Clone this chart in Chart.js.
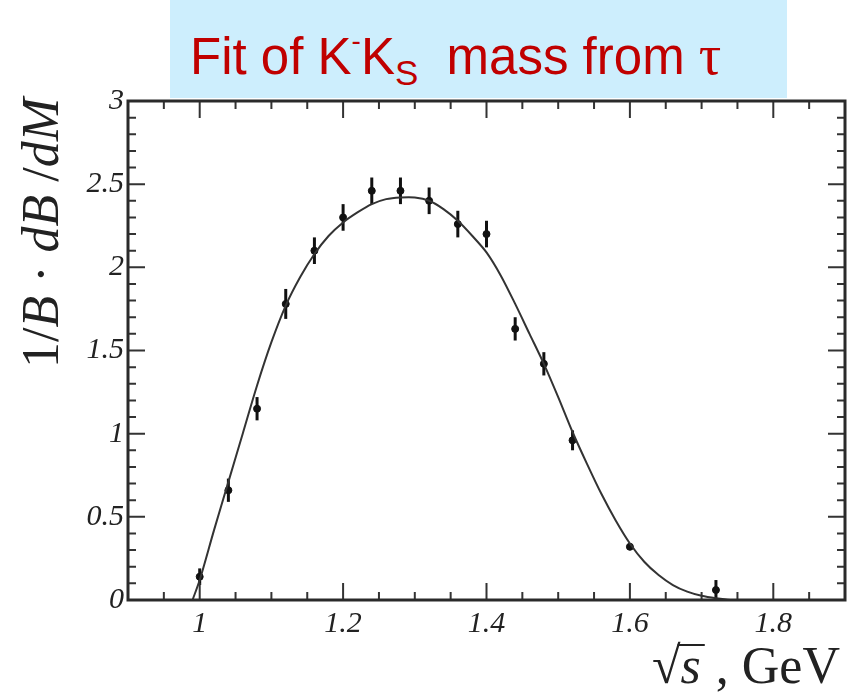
<!DOCTYPE html>
<html>
<head>
<meta charset="utf-8">
<script src="https://cdn.jsdelivr.net/npm/chart.js@4.4.0/dist/chart.umd.min.js"></script>
<style>
  body { margin: 0; background: #fff; overflow: hidden; }
  #wrap { position: relative; width: 850px; height: 693px; }
  #title {
    position: absolute; left: 170px; top: 0; width: 617px; height: 98px;
    background: #cdeefd; color: #c00000;
    font-family: "Liberation Sans", Arial, sans-serif; font-size: 51px;
    white-space: pre;
  }
  #title .t { position: absolute; left: 20px; top: 30px; line-height: 51px; }
  #title .sup { font-size: 28px; vertical-align: 24px; line-height: 0; }
  #title .sub { font-size: 35px; vertical-align: -11px; line-height: 0; }
  #title .tau { font-family: "Liberation Serif", serif; font-size: 56px; }
</style>
</head>
<body>
<div id="wrap">
  <canvas id="massChart" width="850" height="693"></canvas>
  <div id="title"><span class="t">Fit of K<span class="sup">-</span>K<span class="sub">S</span>  mass from <span class="tau">τ</span></span></div>
</div>
<script>
// tick labels
const xTicks = [1, 1.2, 1.4, 1.6, 1.8];
const yTicks = [0, 0.5, 1, 1.5, 2, 2.5, 3];

// measured spectrum (bin centre, value, error)
const massBins = [1.00, 1.04, 1.08, 1.12, 1.16, 1.20, 1.24, 1.28, 1.32, 1.36, 1.40, 1.44, 1.48, 1.52, 1.60, 1.72];
const spectrum = [0.14, 0.66, 1.15, 1.78, 2.10, 2.30, 2.46, 2.46, 2.40, 2.26, 2.20, 1.63, 1.42, 0.96, 0.32, 0.06];
const spectrumErr = [0.05, 0.07, 0.07, 0.09, 0.08, 0.08, 0.08, 0.08, 0.08, 0.08, 0.08, 0.07, 0.07, 0.06, 0.02, 0.06];

// fit curve
const fitMass = [0.99, 1.00, 1.02, 1.04, 1.06, 1.08, 1.10, 1.12, 1.14, 1.16, 1.18, 1.20, 1.22, 1.24, 1.26, 1.28,
  1.30, 1.32, 1.34, 1.36, 1.38, 1.40, 1.42, 1.44, 1.46, 1.48, 1.50, 1.52, 1.54, 1.56, 1.58, 1.60,
  1.62, 1.64, 1.66, 1.68, 1.70, 1.72, 1.74, 1.76];
const fitValue = [0.00, 0.12, 0.42, 0.71, 1.00, 1.29, 1.55, 1.77, 1.94, 2.08, 2.19, 2.27, 2.33, 2.38, 2.41, 2.42,
  2.42, 2.40, 2.35, 2.28, 2.19, 2.09, 1.95, 1.78, 1.60, 1.42, 1.22, 1.01, 0.82, 0.64, 0.48, 0.34,
  0.23, 0.15, 0.09, 0.05, 0.025, 0.01, 0.0, 0.0];

const tickFont = { family: "Liberation Serif", style: "italic", size: 30 };

const frame = {
  id: "frame",
  beforeDatasetsDraw(chart) {
    const { ctx, scales: { x, y } } = chart;
    ctx.save();
    ctx.strokeStyle = "#111";
    ctx.lineWidth = 3;
    massBins.forEach((m, i) => {
      const px = x.getPixelForValue(m);
      ctx.beginPath();
      ctx.moveTo(px, y.getPixelForValue(spectrum[i] - spectrumErr[i]));
      ctx.lineTo(px, y.getPixelForValue(spectrum[i] + spectrumErr[i]));
      ctx.stroke();
    });
    ctx.restore();
  },
  afterDraw(chart) {
    const { ctx, chartArea: a, scales: { x, y } } = chart;
    ctx.save();
    ctx.strokeStyle = "#333";
    ctx.lineWidth = 2;

    // small ticks, pointing inwards on all four sides
    for (let k = 18; k <= 38; k++) {
      const px = x.getPixelForValue(k * 0.05);
      if (px < a.left + 2 || px > a.right - 2) continue;
      const len = k % 4 === 0 ? 17 : 8;
      ctx.beginPath();
      ctx.moveTo(px, a.bottom); ctx.lineTo(px, a.bottom - len);
      ctx.moveTo(px, a.top); ctx.lineTo(px, a.top + len);
      ctx.stroke();
    }
    for (let k = 1; k < 30; k++) {
      const py = y.getPixelForValue(k * 0.1);
      const len = k % 5 === 0 ? 17 : 8;
      ctx.beginPath();
      ctx.moveTo(a.left, py); ctx.lineTo(a.left + len, py);
      ctx.moveTo(a.right, py); ctx.lineTo(a.right - len, py);
      ctx.stroke();
    }

    // frame
    ctx.lineWidth = 3;
    ctx.strokeStyle = "#2a2a2a";
    ctx.strokeRect(a.left, a.top, a.right - a.left, a.bottom - a.top);

    // y title: 1/B·dB/dM, rotated
    const ySize = 52;
    const up = ySize + "px 'Liberation Serif'";
    const it = "italic " + ySize + "px 'Liberation Serif'";
    const parts = [["1", up], ["/", up], ["B", it], [" \u00b7 ", up], ["dB", it], [" /", up], ["dM", it]];
    ctx.save();
    ctx.translate(58, 368);
    ctx.rotate(-Math.PI / 2);
    ctx.fillStyle = "#222";
    ctx.textBaseline = "alphabetic";
    let off = 0;
    parts.forEach(([txt, f]) => {
      ctx.font = f;
      ctx.fillText(txt, off, 0);
      off += ctx.measureText(txt).width;
    });
    ctx.restore();

    // x title: √s , GeV
    ctx.fillStyle = "#222";
    ctx.font = "52px 'Liberation Serif'";
    const base = 683;
    let cx = 652;
    ctx.fillText("\u221a", cx, base);
    cx += ctx.measureText("\u221a").width - 2;
    ctx.font = "italic 52px 'Liberation Serif'";
    const sW = ctx.measureText("s").width;
    ctx.fillText("s", cx + 2, base);
    ctx.lineWidth = 2;
    ctx.strokeStyle = "#222";
    ctx.beginPath();
    ctx.moveTo(cx - 1, base - 38);
    ctx.lineTo(cx + sW + 6, base - 38);
    ctx.stroke();
    ctx.font = "52px 'Liberation Serif'";
    ctx.fillText(" , GeV", cx + sW + 4, base);
    ctx.restore();
  }
};

new Chart(document.getElementById("massChart"), {
  type: "scatter",
  data: {
    datasets: [
      {
        label: "fit",
        data: fitMass.map((m, i) => ({ x: m, y: fitValue[i] })),
        showLine: true,
        borderColor: "#333",
        borderWidth: 2,
        pointRadius: 0,
        tension: 0.3,
      },
      {
        label: "data",
        data: massBins.map((m, i) => ({ x: m, y: spectrum[i] })),
        backgroundColor: "#111",
        borderColor: "#111",
        pointRadius: 3.5,
      },
    ],
  },
  options: {
    responsive: false,
    animation: false,
    devicePixelRatio: 1,
    layout: { padding: { top: 101, right: 2, left: 0, bottom: 0 } },
    plugins: { legend: { display: false }, tooltip: { enabled: false } },
    scales: {
      x: {
        type: "linear",
        min: 0.9,
        max: 1.9,
        grid: { display: false },
        border: { display: false },
        afterBuildTicks: (s) => { s.ticks = xTicks.map((v) => ({ value: v })); },
        afterFit: (s) => { s.height = 93; },
        ticks: { font: tickFont, color: "#222", padding: -2, maxRotation: 0, callback: (v) => String(v) },
      },
      y: {
        min: 0,
        max: 3,
        grid: { display: false },
        border: { display: false },
        afterBuildTicks: (s) => { s.ticks = yTicks.map((v) => ({ value: v })); },
        afterFit: (s) => { s.width = 128; },
        ticks: { font: tickFont, color: "#222", padding: -4, callback: (v) => String(v) },
      },
    },
  },
  plugins: [frame],
});
</script>
</body>
</html>
